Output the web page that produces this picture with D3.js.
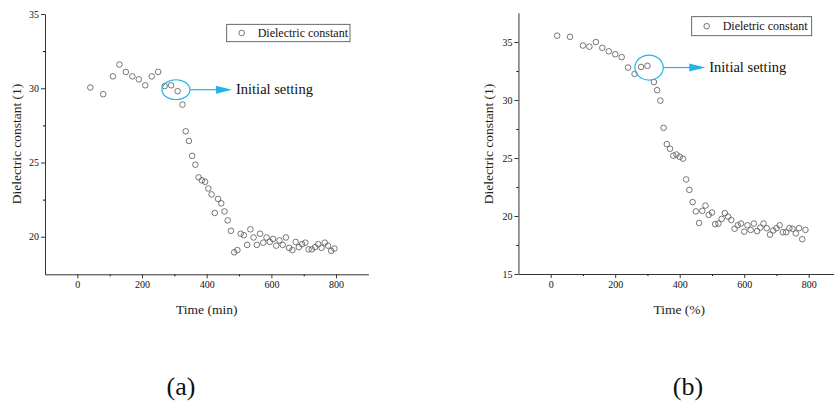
<!DOCTYPE html>
<html>
<head>
<meta charset="utf-8">
<script src="https://cdn.jsdelivr.net/npm/d3@7"></script>
<style>
  body { margin: 0; background: #fff; }
  text { font-family: "Liberation Serif", "Times New Roman", serif; }
</style>
</head>
<body>
<div id="chart"></div>
<script>
// panel (a): time in minutes
var timeA = [40, 80, 110, 130, 150, 170, 190, 210, 230, 250, 270, 290, 310,
             325, 335, 345, 355, 365, 375, 385, 395, 405, 415, 425, 435, 445, 455, 465, 475,
             485, 495, 505, 515, 525, 535, 545, 555, 565, 575, 585, 595, 605, 615, 625, 635,
             645, 655, 665, 675, 685, 695, 705, 715, 725, 735, 745, 755, 765, 775, 785, 795];
var valuesA = [30.05, 29.6, 30.8, 31.6, 31.1, 30.8, 30.6, 30.2, 30.8, 31.1, 30.15, 30.2, 29.8,
               28.9, 27.1, 26.45, 25.45, 24.85, 24.0, 23.8, 23.7, 23.25, 22.85, 21.6, 22.55, 22.25, 21.7, 21.1, 20.4,
               18.95, 19.1, 20.2, 20.1, 19.45, 20.5, 19.95, 19.45, 20.2, 19.6, 19.95, 19.65, 19.85, 19.4, 19.75, 19.45,
               19.95, 19.25, 19.1, 19.65, 19.3, 19.5, 19.6, 19.15, 19.15, 19.3, 19.5, 19.25, 19.6, 19.4, 19.05, 19.2];

// panel (b): time in %
var timeB = [20, 60, 100, 120, 140, 160, 180, 200, 220, 240, 260, 280, 300,
             320, 330, 340, 350, 360, 370, 380, 390, 400, 410, 420, 430, 440, 450, 460, 470,
             480, 490, 500, 510, 520, 530, 540, 550, 560, 570, 580, 590, 600, 610, 620, 630,
             640, 650, 660, 670, 680, 690, 700, 710, 720, 730, 740, 750, 760, 770, 780, 790];
var valuesB = [35.55, 35.45, 34.7, 34.6, 35.0, 34.5, 34.2, 33.95, 33.7, 32.8, 32.25, 32.85, 32.95,
               31.55, 30.85, 29.95, 27.6, 26.2, 25.8, 25.2, 25.3, 25.1, 24.95, 23.15, 22.25, 21.2, 20.4, 19.4, 20.45,
               20.9, 20.1, 20.3, 19.3, 19.35, 19.75, 20.25, 19.95, 19.65, 18.9, 19.2, 19.35, 18.65, 19.2, 18.8, 19.35,
               18.7, 19.0, 19.35, 18.95, 18.4, 18.75, 18.95, 19.2, 18.6, 18.6, 18.95, 18.9, 18.5, 18.95, 18.0, 18.8];

var xTicks = [0, 200, 400, 600, 800];
var xMinor = [100, 300, 500, 700];
var yTicksA = [20, 25, 30, 35];
var yMinorA = [22.5, 27.5, 32.5];
var yTicksB = [15, 20, 25, 30, 35];
var yMinorB = [17.5, 22.5, 27.5, 32.5];

var cyan = "#22b4e4";

var svg = d3.select("#chart").append("svg")
    .attr("width", 834)
    .attr("height", 405);

var drawPanel = function(p){
    var x = d3.scaleLinear().domain([-100, 900]).range(p.xRange);
    var y = d3.scaleLinear().domain(p.yDomain).range(p.yRange);
    var g = svg.append("g");
    var bottom = p.yRange[0];
    var left = p.xRange[0];

    // minor ticks first, majors on top
    g.append("g").attr("transform", "translate(0," + bottom + ")")
        .call(d3.axisBottom(x).tickValues(xMinor).tickSize(2).tickFormat(""))
        .call(function(a){ a.select(".domain").remove(); });
    g.append("g").attr("transform", "translate(" + left + ",0)")
        .call(d3.axisLeft(y).tickValues(p.yMinor).tickSize(2).tickFormat(""))
        .call(function(a){ a.select(".domain").remove(); });

    var xa = g.append("g").attr("transform", "translate(0," + bottom + ")")
        .call(d3.axisBottom(x).tickValues(xTicks).tickSize(4).tickPadding(3).tickSizeOuter(0));
    var ya = g.append("g").attr("transform", "translate(" + left + ",0)")
        .call(d3.axisLeft(y).tickValues(p.yTicks).tickSize(4).tickPadding(2).tickSizeOuter(0));
    [xa, ya].forEach(function(a){
        a.selectAll("text").style("font-family", "Liberation Serif").style("font-size", "10px").attr("fill", "#111");
        a.selectAll("line").attr("stroke", "#333");
        a.select(".domain").attr("stroke", "#333");
    });

    // points
    g.selectAll("circle.pt")
        .data(p.time.map(function(t, i){ return {t: t, v: p.values[i]}; }))
        .enter().append("circle")
        .attr("class", "pt")
        .attr("cx", function(d){ return x(d.t); })
        .attr("cy", function(d){ return y(d.v); })
        .attr("r", 2.8)
        .attr("fill", "none")
        .attr("stroke", "#555")
        .attr("stroke-width", 0.8);

    // axis titles
    g.append("text")
        .attr("x", p.titleX).attr("y", 313.5)
        .attr("text-anchor", "middle")
        .style("font-size", "13.5px")
        .attr("fill", "#222")
        .text(p.xTitle);
    g.append("text")
        .attr("transform", "translate(" + p.yTitleX + ",144) rotate(-90)")
        .attr("text-anchor", "middle")
        .attr("dominant-baseline", "central")
        .style("font-size", "13.5px")
        .attr("fill", "#222")
        .text("Dielectric constant (1)");

    // legend
    var lg = p.legend;
    g.append("rect")
        .attr("x", lg.x).attr("y", lg.y)
        .attr("width", lg.w).attr("height", lg.h)
        .attr("fill", "#fff").attr("stroke", "#444").attr("stroke-width", 0.8);
    g.append("circle")
        .attr("cx", lg.x + 15).attr("cy", lg.y + lg.h / 2).attr("r", 2.8)
        .attr("fill", "none").attr("stroke", "#555").attr("stroke-width", 0.8);
    g.append("text")
        .attr("x", lg.x + 31).attr("y", lg.y + lg.h / 2 + 4)
        .style("font-size", "12px")
        .attr("fill", "#111")
        .text(lg.label);

    // "Initial setting" annotation
    var cx = x(p.mark[0]), cy = y(p.mark[1]);
    g.append("ellipse")
        .attr("cx", cx).attr("cy", cy)
        .attr("rx", p.ellipse[0]).attr("ry", p.ellipse[1])
        .attr("fill", "none").attr("stroke", cyan).attr("stroke-width", 1.2);
    var ax0 = cx + p.ellipse[0];
    g.append("line")
        .attr("x1", ax0).attr("y1", cy)
        .attr("x2", ax0 + 28).attr("y2", cy)
        .attr("stroke", cyan).attr("stroke-width", 1.2);
    g.append("path")
        .attr("d", "M" + (ax0 + 26) + "," + (cy - 4) + "L" + (ax0 + 42) + "," + cy + "L" + (ax0 + 26) + "," + (cy + 4) + "Z")
        .attr("fill", cyan);
    g.append("text")
        .attr("x", ax0 + 46).attr("y", cy + 4.5)
        .style("font-size", "14.5px")
        .attr("fill", "#111")
        .text("Initial setting");

    // panel label
    g.append("text")
        .attr("x", p.tagX).attr("y", 395)
        .attr("text-anchor", "middle")
        .style("font-size", "26px")
        .attr("fill", "#111")
        .text(p.tag);
};

drawPanel({
    time: timeA, values: valuesA,
    xRange: [45, 368.4], yDomain: [17.47, 35], yRange: [274.3, 14],
    yTicks: yTicksA, yMinor: yMinorA,
    xTitle: "Time (min)", titleX: 206.7, yTitleX: 16,
    legend: {x: 226.7, y: 24.3, w: 123.3, h: 17.4, label: "Dielectric constant"},
    mark: [305, 29.9], ellipse: [14, 10],
    tag: "(a)", tagX: 181
});

drawPanel({
    time: timeB, values: valuesB,
    xRange: [518.45, 840.95], yDomain: [15, 37.53], yRange: [274, 12.7],
    yTicks: yTicksB, yMinor: yMinorB,
    xTitle: "Time (%)", titleX: 679.3, yTitleX: 488.5,
    legend: {x: 691.7, y: 16.7, w: 120, h: 19, label: "Dieletric constant"},
    mark: [305, 32.8], ellipse: [14.2, 12.5],
    tag: "(b)", tagX: 688
});
</script>
</body>
</html>
